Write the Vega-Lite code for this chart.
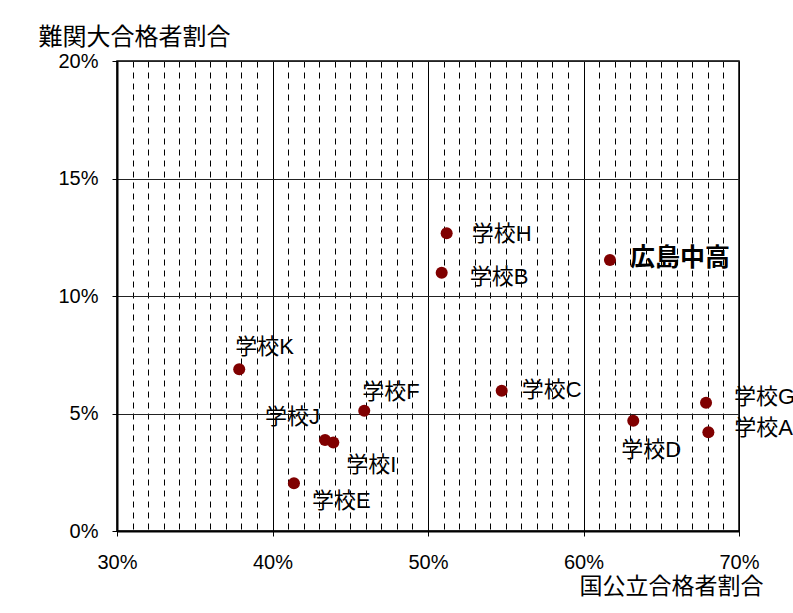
{
  "$schema": "https://vega.github.io/schema/vega-lite/v6.json",
  "autosize": {"type": "none"},
  "padding": {"left": 117, "top": 61, "right": 54, "bottom": 82},
  "width": 622,
  "height": 470,
  "background": "white",
  "data": {"values": [
    {"name": "広島中高", "national": 0.6170, "elite": 0.1153},
    {"name": "学校H", "national": 0.5120, "elite": 0.1267},
    {"name": "学校B", "national": 0.5088, "elite": 0.1099},
    {"name": "学校C", "national": 0.5474, "elite": 0.0597},
    {"name": "学校K", "national": 0.3786, "elite": 0.0688},
    {"name": "学校F", "national": 0.4590, "elite": 0.0512},
    {"name": "学校J", "national": 0.4338, "elite": 0.0387},
    {"name": "学校I", "national": 0.4391, "elite": 0.0377},
    {"name": "学校E", "national": 0.4138, "elite": 0.0203},
    {"name": "学校G", "national": 0.6788, "elite": 0.0546},
    {"name": "学校D", "national": 0.6320, "elite": 0.0469},
    {"name": "学校A", "national": 0.6803, "elite": 0.0420}
  ]},
  "encoding": {
    "x": {
      "field": "national", "type": "quantitative",
      "scale": {"domain": [0.3, 0.7], "nice": false, "zero": false},
      "axis": {
        "values": [0.30,0.31,0.32,0.33,0.34,0.35,0.36,0.37,0.38,0.39,0.40,0.41,0.42,0.43,0.44,0.45,0.46,0.47,0.48,0.49,0.50,0.51,0.52,0.53,0.54,0.55,0.56,0.57,0.58,0.59,0.60,0.61,0.62,0.63,0.64,0.65,0.66,0.67,0.68,0.69,0.70],
        "format": ".0%",
        "labelExpr": "abs(datum.value*10 - round(datum.value*10)) < 0.001 ? datum.label : ''",
        "labelOverlap": false,
        "labelFlush": false,
        "labelBaseline": "middle",
        "labelPadding": 26,
        "labelFontSize": 20,
        "labelFont": "Liberation Sans",
        "labelColor": "#000",
        "grid": true,
        "gridColor": "#000",
        "gridWidth": 1,
        "gridDash": {"condition": {"test": "abs(datum.value*10 - round(datum.value*10)) < 0.001", "value": []}, "value": [6, 5]},
        "ticks": true,
        "tickSize": 5,
        "tickColor": "#000",
        "tickOpacity": {"condition": {"test": "abs(datum.value*10 - round(datum.value*10)) < 0.001", "value": 1}, "value": 0},
        "domain": true,
        "domainColor": "#000",
        "domainWidth": 2,
        "title": "国公立合格者割合",
        "titleFont": "Noto Sans CJK JP",
        "titleFontSize": 23,
        "titleFontWeight": "normal",
        "titleColor": "#000",
        "titleAlign": "right",
        "titleBaseline": "middle",
        "titleX": 646,
        "titleY": 55
      }
    },
    "y": {
      "field": "elite", "type": "quantitative",
      "scale": {"domain": [0, 0.2], "nice": false, "zero": false},
      "axis": {
        "values": [0, 0.05, 0.1, 0.15, 0.2],
        "format": ".0%",
        "labelFontSize": 20,
        "labelFont": "Liberation Sans",
        "labelColor": "#000",
        "labelPadding": 14,
        "grid": true,
        "gridColor": "#222",
        "gridWidth": 1,
        "ticks": true,
        "tickSize": 5,
        "tickColor": "#000",
        "domain": true,
        "domainColor": "#000",
        "domainWidth": 2,
        "title": "難関大合格者割合",
        "titleFont": "Noto Sans CJK JP",
        "titleFontSize": 24,
        "titleFontWeight": "normal",
        "titleColor": "#000",
        "titleAngle": 0,
        "titleAlign": "left",
        "titleBaseline": "middle",
        "titleX": -79,
        "titleY": -24
      }
    }
  },
  "layer": [
    {
      "mark": {"type": "circle", "size": 145, "color": "#800000", "opacity": 1}
    },
    {
      "transform": [{"filter": "datum.name === '広島中高'"}],
      "mark": {"type": "text", "dx": 20, "dy": -2, "fontSize": 25, "fontWeight": "bold"},
      "encoding": {"text": {"field": "name"}}
    },
    {
      "transform": [{"filter": "datum.name === '学校H'"}],
      "mark": {"type": "text", "dx": 25, "dy": 1},
      "encoding": {"text": {"field": "name"}}
    },
    {
      "transform": [{"filter": "datum.name === '学校B'"}],
      "mark": {"type": "text", "dx": 28, "dy": 4},
      "encoding": {"text": {"field": "name"}}
    },
    {
      "transform": [{"filter": "datum.name === '学校C'"}],
      "mark": {"type": "text", "dx": 20, "dy": -1},
      "encoding": {"text": {"field": "name"}}
    },
    {
      "transform": [{"filter": "datum.name === '学校G'"}],
      "mark": {"type": "text", "dx": 28, "dy": -6},
      "encoding": {"text": {"field": "name"}}
    },
    {
      "transform": [{"filter": "datum.name === '学校A'"}],
      "mark": {"type": "text", "dx": 26, "dy": -4},
      "encoding": {"text": {"field": "name"}}
    },
    {
      "transform": [{"filter": "datum.name === '学校K'"}],
      "mark": {"type": "text", "dx": -4, "dy": -22},
      "encoding": {"text": {"field": "name"}}
    },
    {
      "transform": [{"filter": "datum.name === '学校F'"}],
      "mark": {"type": "text", "dx": -2, "dy": -19},
      "encoding": {"text": {"field": "name"}}
    },
    {
      "transform": [{"filter": "datum.name === '学校J'"}],
      "mark": {"type": "text", "dx": -60, "dy": -23},
      "encoding": {"text": {"field": "name"}}
    },
    {
      "transform": [{"filter": "datum.name === '学校I'"}],
      "mark": {"type": "text", "dx": 13, "dy": 23},
      "encoding": {"text": {"field": "name"}}
    },
    {
      "transform": [{"filter": "datum.name === '学校E'"}],
      "mark": {"type": "text", "dx": 18, "dy": 18},
      "encoding": {"text": {"field": "name"}}
    },
    {
      "transform": [{"filter": "datum.name === '学校D'"}],
      "mark": {"type": "text", "dx": -12, "dy": 29},
      "encoding": {"text": {"field": "name"}}
    }
  ],
  "config": {
    "view": {"stroke": "#000", "strokeWidth": 1.5},
    "text": {"font": "Liberation Sans, Noto Sans CJK JP", "fontSize": 22, "align": "left", "baseline": "middle", "color": "#000"}
  }
}
